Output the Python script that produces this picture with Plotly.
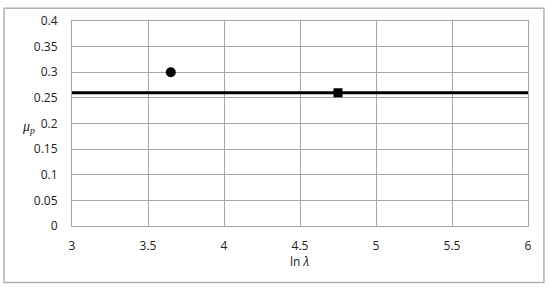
import plotly.graph_objects as go

# data
line_x = [3, 6]
line_y = [0.26, 0.26]
circle_x = [3.65]
circle_y = [0.30]
square_x = [4.75]
square_y = [0.26]

x_ticks = [3, 3.5, 4, 4.5, 5, 5.5, 6]
y_ticks = [0, 0.05, 0.1, 0.15, 0.2, 0.25, 0.3, 0.35, 0.4]

fig = go.Figure()

fig.add_trace(go.Scatter(x=line_x, y=line_y, mode="lines",
                         line=dict(color="black", width=3), showlegend=False))
fig.add_trace(go.Scatter(x=circle_x, y=circle_y, mode="markers",
                         marker=dict(symbol="circle", size=10, color="black"), showlegend=False))
fig.add_trace(go.Scatter(x=square_x, y=square_y, mode="markers",
                         marker=dict(symbol="square", size=9, color="black"), showlegend=False))

grid = "#a6a6a6"
font = dict(family="Open Sans", size=12, color="#222")

fig.update_layout(
    width=550, height=288,
    margin=dict(l=72, r=22, t=16, b=62),
    paper_bgcolor="white", plot_bgcolor="white",
    font=font,
    xaxis=dict(range=[3, 6], tickvals=x_ticks, ticktext=[str(v) for v in x_ticks],
               showgrid=True, gridcolor=grid, gridwidth=1,
               showline=True, linecolor=grid, linewidth=1, mirror=True,
               zeroline=False, ticklabelstandoff=9, fixedrange=True),
    yaxis=dict(range=[0, 0.4], tickvals=y_ticks, ticktext=[f"{v:g}" for v in y_ticks],
               showgrid=True, gridcolor=grid, gridwidth=1,
               showline=True, linecolor=grid, linewidth=1, mirror=True,
               zeroline=False, ticklabelstandoff=11, fixedrange=True),
    shapes=[dict(type="rect", xref="paper", yref="paper",
                 x0=-0.149, x1=1.035, y0=-0.276, y1=1.062,
                 line=dict(color="#b0b0b0", width=1.5), fillcolor="rgba(0,0,0,0)")],
    annotations=[
        dict(text="ln <i>λ</i>", xref="paper", yref="paper", x=0.5, y=-0.172,
             showarrow=False, xanchor="center", yanchor="middle", font=font),
        dict(text="<i>μ<sub>p</sub></i>", xref="paper", yref="paper", x=-0.095, y=0.48,
             showarrow=False, xanchor="center", yanchor="middle",
             font=dict(family="Liberation Serif", size=14, color="#222")),
    ],
)

fig.write_html("out.html", config={"displayModeBar": False},
               post_script="document.body.style.margin='0';")
